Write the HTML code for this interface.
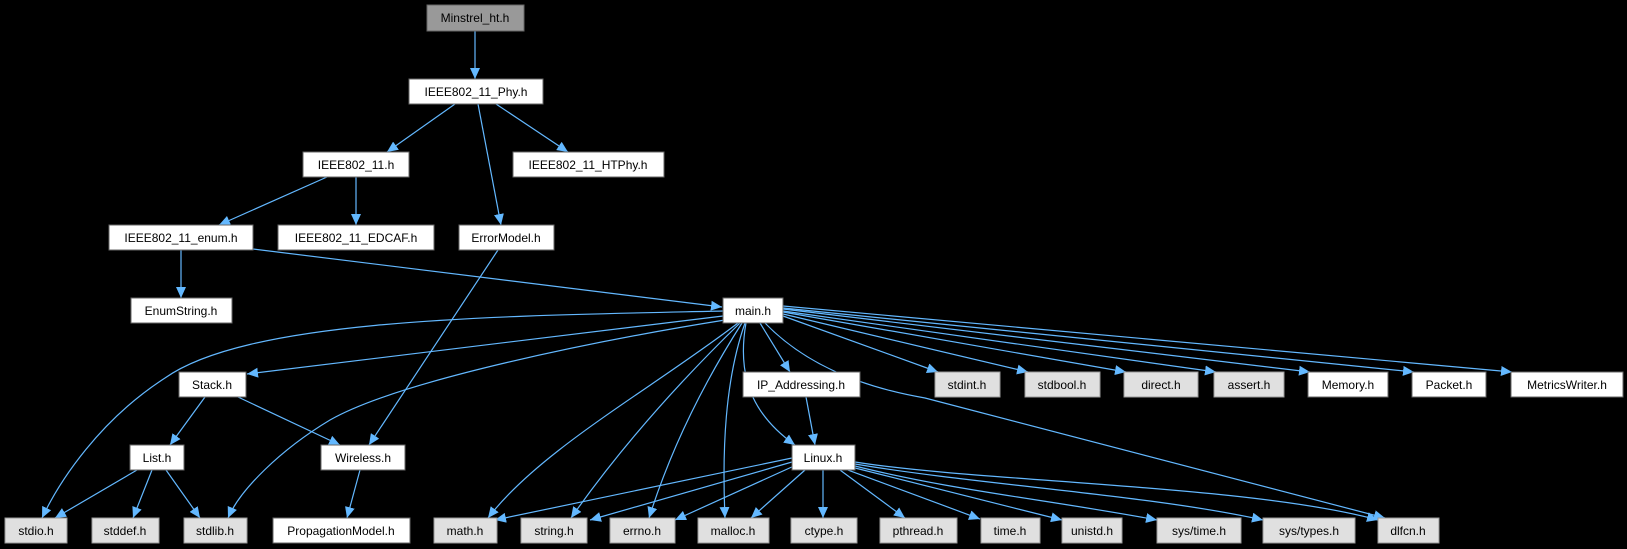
<!DOCTYPE html>
<html><head><meta charset="utf-8"><style>
html,body{margin:0;padding:0;background:#000;}
svg{display:block;}
text{font-family:"Liberation Sans",Arial,sans-serif;font-size:12px;fill:#000;text-anchor:middle;}
.e{fill:none;stroke:#63b8ff;stroke-width:1.2;marker-end:url(#a);}
.w{fill:#fff;stroke:#666;stroke-width:1;}
.g{fill:#e0e0e0;stroke:#999;stroke-width:1;}
</style></head><body>
<svg width="1627" height="549" viewBox="0 0 1627 549" xmlns="http://www.w3.org/2000/svg">
<defs><marker id="a" markerUnits="userSpaceOnUse" markerWidth="12" markerHeight="10" refX="11" refY="5" orient="auto"><path d="M0,0 L11,5 L0,10 z" fill="#63b8ff"/></marker></defs>
<rect width="1627" height="549" fill="#000"/>
<g>
<path class="e" d="M475,31 L475,79"/>
<path class="e" d="M455,104 L387,152"/>
<path class="e" d="M478,104 L501,225"/>
<path class="e" d="M496,104 L568,152"/>
<path class="e" d="M327,177 L219,225"/>
<path class="e" d="M356,177 V225"/>
<path class="e" d="M181,250 V298"/>
<path class="e" d="M253,249 L722,307"/>
<path class="e" d="M498,250 L369,445"/>
<path class="e" d="M723,311 C500,316 250,318 165,378 C100,420 60,480 42,518"/>
<path class="e" d="M723,316 L247,374"/>
<path class="e" d="M725,320 C600,340 400,380 330,420 C280,450 240,490 228,518"/>
<path class="e" d="M738,323 C650,390 540,450 488,518"/>
<path class="e" d="M740,323 Q640,420 571,518"/>
<path class="e" d="M742,323 Q680,420 649,518"/>
<path class="e" d="M745,323 C725,380 722,450 725,518"/>
<path class="e" d="M746,323 C735,385 760,420 795,445"/>
<path class="e" d="M760,323 L790,372"/>
<path class="e" d="M783,316 L938,372"/>
<path class="e" d="M783,314 L1028,372"/>
<path class="e" d="M783,312 L1126,372"/>
<path class="e" d="M783,311 L1216,372"/>
<path class="e" d="M783,309 L1310,372"/>
<path class="e" d="M783,308 L1414,372"/>
<path class="e" d="M783,306 L1512,372"/>
<path class="e" d="M765,323 Q820,380 925,398 L1385,518"/>
<path class="e" d="M205,397 L170,445"/>
<path class="e" d="M238,397 L340,445"/>
<path class="e" d="M137,470 L55,518"/>
<path class="e" d="M152,470 L133,518"/>
<path class="e" d="M166,470 L200,518"/>
<path class="e" d="M360,470 L347,518"/>
<path class="e" d="M806,397 L815,445"/>
<path class="e" d="M792,458 L495,520"/>
<path class="e" d="M792,462 L590,520"/>
<path class="e" d="M794,466 L675,520"/>
<path class="e" d="M805,470 L751,518"/>
<path class="e" d="M823,470 V518"/>
<path class="e" d="M840,470 L905,518"/>
<path class="e" d="M848,470 L980,519"/>
<path class="e" d="M855,468 L1062,520"/>
<path class="e" d="M855,466 C950,490 1050,500 1157,520"/>
<path class="e" d="M855,464 C980,485 1150,495 1263,520"/>
<path class="e" d="M855,462 C980,482 1250,485 1378,520"/>
</g>
<g>
<rect x="427" y="5" width="97" height="26" fill="#999" stroke="#666"/><text x="475" y="22">Minstrel_ht.h</text>
<rect class="w" x="409" y="79" width="134" height="25"/><text x="476" y="96">IEEE802_11_Phy.h</text>
<rect class="w" x="303" y="152" width="106" height="25"/><text x="356" y="169">IEEE802_11.h</text>
<rect class="w" x="513" y="152" width="151" height="25"/><text x="588" y="169">IEEE802_11_HTPhy.h</text>
<rect class="w" x="109" y="225" width="144" height="25"/><text x="181" y="242">IEEE802_11_enum.h</text>
<rect class="w" x="278" y="225" width="156" height="25"/><text x="356" y="242">IEEE802_11_EDCAF.h</text>
<rect class="w" x="459" y="225" width="95" height="25"/><text x="506" y="242">ErrorModel.h</text>
<rect class="w" x="131" y="298" width="101" height="25"/><text x="181" y="315">EnumString.h</text>
<rect class="w" x="723" y="298" width="60" height="25"/><text x="753" y="315">main.h</text>
<rect class="w" x="179" y="372" width="67" height="25"/><text x="212" y="389">Stack.h</text>
<rect class="w" x="743" y="372" width="117" height="25"/><text x="801" y="389">IP_Addressing.h</text>
<rect class="g" x="935" y="372" width="65" height="25"/><text x="967" y="389">stdint.h</text>
<rect class="g" x="1025" y="372" width="75" height="25"/><text x="1062" y="389">stdbool.h</text>
<rect class="g" x="1124" y="372" width="74" height="25"/><text x="1161" y="389">direct.h</text>
<rect class="g" x="1214" y="372" width="70" height="25"/><text x="1249" y="389">assert.h</text>
<rect class="w" x="1308" y="372" width="80" height="25"/><text x="1348" y="389">Memory.h</text>
<rect class="w" x="1412" y="372" width="74" height="25"/><text x="1449" y="389">Packet.h</text>
<rect class="w" x="1511" y="372" width="112" height="25"/><text x="1567" y="389">MetricsWriter.h</text>
<rect class="w" x="130" y="445" width="54" height="25"/><text x="157" y="462">List.h</text>
<rect class="w" x="321" y="445" width="84" height="25"/><text x="363" y="462">Wireless.h</text>
<rect class="w" x="792" y="445" width="63" height="25"/><text x="823" y="462">Linux.h</text>
<rect class="g" x="5" y="518" width="62" height="25"/><text x="36" y="535">stdio.h</text>
<rect class="g" x="92" y="518" width="67" height="25"/><text x="125" y="535">stddef.h</text>
<rect class="g" x="184" y="518" width="63" height="25"/><text x="215" y="535">stdlib.h</text>
<rect class="w" x="273" y="518" width="137" height="25"/><text x="341" y="535">PropagationModel.h</text>
<rect class="g" x="434" y="518" width="63" height="25"/><text x="465" y="535">math.h</text>
<rect class="g" x="521" y="518" width="66" height="25"/><text x="554" y="535">string.h</text>
<rect class="g" x="610" y="518" width="65" height="25"/><text x="642" y="535">errno.h</text>
<rect class="g" x="698" y="518" width="71" height="25"/><text x="733" y="535">malloc.h</text>
<rect class="g" x="791" y="518" width="66" height="25"/><text x="824" y="535">ctype.h</text>
<rect class="g" x="880" y="518" width="77" height="25"/><text x="918" y="535">pthread.h</text>
<rect class="g" x="981" y="518" width="59" height="25"/><text x="1010" y="535">time.h</text>
<rect class="g" x="1062" y="518" width="60" height="25"/><text x="1092" y="535">unistd.h</text>
<rect class="g" x="1157" y="518" width="84" height="25"/><text x="1199" y="535">sys/time.h</text>
<rect class="g" x="1263" y="518" width="92" height="25"/><text x="1309" y="535">sys/types.h</text>
<rect class="g" x="1378" y="518" width="61" height="25"/><text x="1408" y="535">dlfcn.h</text>
</g>
</svg>
</body></html>
